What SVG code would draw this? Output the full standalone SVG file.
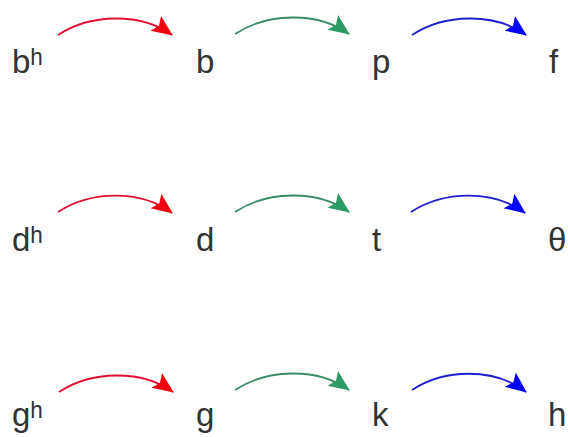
<svg xmlns="http://www.w3.org/2000/svg" width="568" height="437" viewBox="0 0 568 437">
<style>
text{font-family:"Liberation Sans","DejaVu Sans",sans-serif;font-size:33px;fill:#333}
.a{fill:none;stroke-width:1.8}
.r{stroke:#e01030}.g{stroke:#3a8a66}.b{stroke:#2020d0}
</style>
<defs>
<marker id="mr" markerUnits="userSpaceOnUse" markerWidth="24" markerHeight="20" refX="20" refY="9" orient="auto"><path d="M0,0 L21,9 L0,18 L4,9 Z" fill="#f00010"/></marker>
<marker id="mg" markerUnits="userSpaceOnUse" markerWidth="24" markerHeight="20" refX="20" refY="9" orient="auto"><path d="M0,0 L21,9 L0,18 L4,9 Z" fill="#2e9a66"/></marker>
<marker id="mb" markerUnits="userSpaceOnUse" markerWidth="24" markerHeight="20" refX="20" refY="9" orient="auto"><path d="M0,0 L21,9 L0,18 L4,9 Z" fill="#0000ff"/></marker>
</defs>
<rect width="568" height="437" fill="#fff"/>
<g id="connectors">
<path class="a r" marker-end="url(#mr)" d="M58,35 C90,14 140,12 172,35"/>
<path class="a g" marker-end="url(#mg)" d="M235,34 C267,13 317,11 349,34"/>
<path class="a b" marker-end="url(#mb)" d="M412,35 C444,14 494,12 526,35"/>
<path class="a r" marker-end="url(#mr)" d="M58,212 C90,191 140,189 172,213"/>
<path class="a g" marker-end="url(#mg)" d="M235,212 C267,191 317,189 349,212"/>
<path class="a b" marker-end="url(#mb)" d="M411,212 C443,191 493,189 525,213"/>
<path class="a r" marker-end="url(#mr)" d="M59,392 C91,371 141,369 173,392"/>
<path class="a g" marker-end="url(#mg)" d="M235,390 C267,369 317,367 349,390"/>
<path class="a b" marker-end="url(#mb)" d="M412,390 C444,369 494,367 526,392"/>
</g>
<g id="bh"><text x="12" y="73">bʰ</text></g>
<g id="b"><text x="196" y="73">b</text></g>
<g id="p"><text x="372" y="73">p</text></g>
<g id="f"><text x="549" y="73">f</text></g>
<g id="dh"><text x="12" y="251">dʰ</text></g>
<g id="d"><text x="196" y="251">d</text></g>
<g id="t"><text x="372" y="251">t</text></g>
<g id="theta"><text x="548" y="251">θ</text></g>
<g id="gh"><text x="12" y="426">gʰ</text></g>
<g id="g"><text x="196" y="426">g</text></g>
<g id="k"><text x="372" y="426">k</text></g>
<g id="h"><text x="548" y="426">h</text></g>
</svg>
